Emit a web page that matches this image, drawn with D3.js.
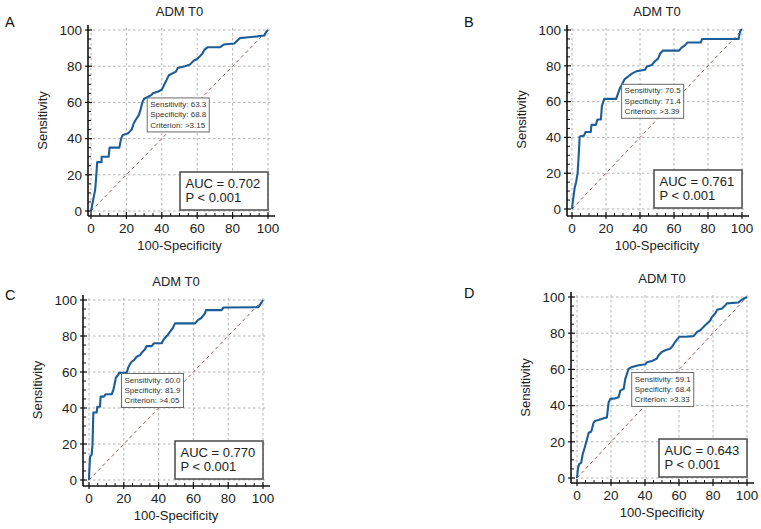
<!DOCTYPE html>
<html>
<head>
<meta charset="utf-8">
<script src="https://cdn.jsdelivr.net/npm/d3@7"></script>
<style>
  html, body { margin: 0; padding: 0; background: #ffffff; }
  svg { display: block; }
  text { font-family: "Liberation Sans", Arial, sans-serif; }
</style>
</head>
<body>
<svg id="chart" width="761" height="529"></svg>
<script>
// ---------------- DATA ----------------
const panelLabels = ["A", "B", "C", "D"];
const titles = ["ADM T0", "ADM T0", "ADM T0", "ADM T0"];
const xTicks = [0, 20, 40, 60, 80, 100];
const yTicks = [0, 20, 40, 60, 80, 100];
const minorTicks = [5, 10, 15, 25, 30, 35, 45, 50, 55, 65, 70, 75, 85, 90, 95];
const xAxisTitle = "100-Specificity";
const yAxisTitle = "Sensitivity";

const aucValues = ["0.702", "0.761", "0.770", "0.643"];
const pValues = ["< 0.001", "< 0.001", "< 0.001", "< 0.001"];
const sensValues = ["63.3", "70.5", "60.0", "59.1"];
const specValues = ["68.8", "71.4", "81.9", "68.4"];
const criterionValues = [">3.15", ">3.39", ">4.05", ">3.33"];

// ROC curves: [100-Specificity, Sensitivity]
const rocA = [[0,0],[1,5],[2,10],[2.4,12],[3,20],[3.5,27],[6,27],[6,30],[10,30],[10.5,35],[16,35],[17,40],[18,42],[21,43],[22,44],[23,45],[24,48],[25,50],[27,53],[28,56],[29,60],[30,62],[32,63],[34,64],[35,65],[38,66],[40,67],[41,69],[42,71],[43,73],[44,75],[46,76],[48,77],[49,79],[53,80],[56,81],[58,83],[60,84],[61,85],[63,87],[64,89],[66,90.5],[73,90.5],[75,92],[81,92.5],[83,94.5],[84,95.5],[89,96],[94,96.5],[98,97],[99,99],[100,100]];
const rocB = [[0,0],[0.6,5],[1.6,12],[2.4,15],[3.3,20],[4,31],[4.5,40.5],[7,41],[8,43],[11,43],[11.5,47],[14,47],[15,50],[17,50],[17.6,57.6],[19,61.5],[26,61.5],[26.5,63],[28,67],[29.6,70],[31,72.6],[33,74],[35,75.5],[38,77],[43,77.8],[44,79.6],[47,80.5],[48.6,82.4],[50.6,84],[52,87],[53.5,88.5],[63,88.5],[64.3,90],[66.7,91.7],[68,93],[75.7,93],[76.5,95],[98,95],[98.6,98],[99.2,100],[100,100]];
const rocC = [[0,0],[0.2,5.5],[0.6,13],[1.5,14],[2,19.5],[2.5,37.5],[4.4,37.5],[4.8,40.7],[6.3,40.7],[6.7,46.3],[8.6,46.3],[9.5,47.6],[13,47.6],[14,50],[15.5,57],[16.5,58],[17.4,59.5],[21.6,59.5],[22.6,62.6],[23.6,64.4],[24.5,65.7],[26,66.7],[27.4,68.5],[29.3,69.4],[30.3,70.7],[32.2,72.6],[33.1,74.4],[36,74.4],[37.4,76],[41.8,76],[42.7,77.8],[44.3,79.6],[45.6,81],[46.6,82.4],[48.1,84.3],[49.4,87],[61,87],[62.8,89],[64.5,90],[66.7,92.6],[67.2,94.4],[76.2,94.4],[77.2,95.8],[97.3,96],[98.7,98],[100,100]];
const rocD = [[0,0],[0.6,5.6],[1.4,7.8],[2.5,8.5],[3.3,13],[4.5,16.7],[5.3,19.5],[6.9,25],[8.4,25.7],[9.8,30.7],[10.8,31.6],[12.7,32],[15.7,33],[17.6,33.5],[18.6,41.8],[19.6,43.7],[22.5,44],[24.5,44.6],[25.5,48.3],[27.5,49.3],[28.4,54.8],[29.4,57.6],[30.4,60.4],[32.4,61.3],[36.3,62.3],[40.2,62.8],[41.2,64],[44,64.7],[45,65],[47,66],[48,67.8],[50,69.7],[52,70.6],[55,71.6],[55.9,72.5],[57.8,75.3],[60.2,78],[63.7,78],[68.6,78.4],[70.6,80.7],[72.5,81.6],[74.5,83.5],[76.5,85.3],[78.4,87],[79.4,89],[81.4,91],[82.4,92.9],[85.3,93.7],[87.3,95.5],[88.2,96.5],[95,97],[97,98.5],[100,100]];
const rocCurves = [rocA, rocB, rocC, rocD];

// cutoff points (100-specificity, sensitivity)
const cutX = specValues.map(s => 100 - (+s));
const cutY = sensValues.map(s => +s);

// ---------------- LAYOUT ----------------
const layout = [
  { x0: 91,  x1: 268, y0: 211, y1: 30,  axL: 88,  axB: 216, lx: 5,   ly: 27 },
  { x0: 572, x1: 742, y0: 209, y1: 30,  axL: 567, axB: 216, lx: 464, ly: 27 },
  { x0: 89,  x1: 263, y0: 480, y1: 300, axL: 83,  axB: 486, lx: 5,   ly: 300 },
  { x0: 577, x1: 747, y0: 478, y1: 297, axL: 571, axB: 483, lx: 464, ly: 298 }
];

const svg = d3.select("#chart");

layout.forEach((L, i) => {
  const g = svg.append("g");
  const x = d3.scaleLinear().domain([0, 100]).range([L.x0, L.x1]);
  const y = d3.scaleLinear().domain([0, 100]).range([L.y0, L.y1]);

  // grid
  g.append("g").selectAll("line").data(xTicks).join("line")
    .attr("x1", d => x(d)).attr("x2", d => x(d))
    .attr("y1", L.y1 - 2).attr("y2", L.axB)
    .attr("stroke", "#b4b4b4").attr("stroke-width", 1).attr("stroke-dasharray", "2.5,2.5");
  g.append("g").selectAll("line").data(yTicks).join("line")
    .attr("y1", d => y(d)).attr("y2", d => y(d))
    .attr("x1", L.axL).attr("x2", L.x1 + 2)
    .attr("stroke", "#b4b4b4").attr("stroke-width", 1).attr("stroke-dasharray", "2.5,2.5");

  // diagonal
  g.append("line")
    .attr("x1", x(0)).attr("y1", y(0)).attr("x2", x(100)).attr("y2", y(100))
    .attr("stroke", "#a45a5a").attr("stroke-width", 1).attr("stroke-dasharray", "3.5,3");

  // ROC curve
  const line = d3.line().x(d => x(d[0])).y(d => y(d[1]));
  g.append("path").datum(rocCurves[i])
    .attr("d", line)
    .attr("fill", "none").attr("stroke", "#1c5d98").attr("stroke-width", 2.1)
    .attr("stroke-linejoin", "round");

  // axes lines
  g.append("line").attr("x1", L.axL).attr("x2", L.axL).attr("y1", L.y1 - 5).attr("y2", L.axB)
    .attr("stroke", "#111").attr("stroke-width", 1.6);
  g.append("line").attr("x1", L.axL).attr("x2", L.x1 + 7).attr("y1", L.axB).attr("y2", L.axB)
    .attr("stroke", "#111").attr("stroke-width", 1.6);

  // ticks
  g.append("g").selectAll("line").data(yTicks).join("line")
    .attr("x1", L.axL - 3).attr("x2", L.axL + 4).attr("y1", d => y(d)).attr("y2", d => y(d))
    .attr("stroke", "#111").attr("stroke-width", 1.2);
  g.append("g").selectAll("line").data(minorTicks).join("line")
    .attr("x1", L.axL).attr("x2", L.axL + 3).attr("y1", d => y(d)).attr("y2", d => y(d))
    .attr("stroke", "#111").attr("stroke-width", 1);
  g.append("g").selectAll("line").data(xTicks).join("line")
    .attr("y1", L.axB + 3).attr("y2", L.axB - 4).attr("x1", d => x(d)).attr("x2", d => x(d))
    .attr("stroke", "#111").attr("stroke-width", 1.2);
  g.append("g").selectAll("line").data(minorTicks).join("line")
    .attr("y1", L.axB).attr("y2", L.axB - 3).attr("x1", d => x(d)).attr("x2", d => x(d))
    .attr("stroke", "#111").attr("stroke-width", 1);

  // tick labels
  g.append("g").selectAll("text").data(yTicks).join("text")
    .attr("x", L.axL - 6).attr("y", d => y(d)).attr("dy", "0.36em")
    .attr("text-anchor", "end").attr("font-size", 13.5).attr("fill", "#222")
    .text(d => d);
  g.append("g").selectAll("text").data(xTicks).join("text")
    .attr("x", d => x(d)).attr("y", L.axB + 16.5)
    .attr("text-anchor", "middle").attr("font-size", 13.5).attr("fill", "#222")
    .text(d => d);

  // titles
  g.append("text").attr("x", (L.x0 + L.x1) / 2).attr("y", L.y1 - 13.7)
    .attr("text-anchor", "middle").attr("font-size", 13).attr("fill", "#222").text(titles[i]);
  g.append("text").attr("x", (L.x0 + L.x1) / 2).attr("y", L.axB + 33.5)
    .attr("text-anchor", "middle").attr("font-size", 13).attr("fill", "#222").text(xAxisTitle);
  g.append("text")
    .attr("transform", `translate(${L.axL - 41},${(L.y0 + L.y1) / 2}) rotate(-90)`)
    .attr("text-anchor", "middle").attr("font-size", 13).attr("fill", "#222").text(yAxisTitle);

  // panel letter
  g.append("text").attr("x", L.lx).attr("y", L.ly)
    .attr("font-size", 14.5).attr("fill", "#111").text(panelLabels[i]);

  // cutoff info box
  const bx = x(cutX[i]) + 1, by = y(cutY[i]) + 1.5;
  const infoLines = [
    "Sensitivity: " + sensValues[i],
    "Specificity: " + specValues[i],
    "Criterion: " + criterionValues[i]
  ];
  const ib = g.append("g");
  const rect = ib.append("rect").attr("x", bx).attr("y", by)
    .attr("fill", "#fff").attr("stroke", "#6a6a6a").attr("stroke-width", 1);
  const tx = ib.selectAll("text").data(infoLines).join("text")
    .attr("x", bx + 3).attr("y", (d, k) => by + 9 + k * 10.3)
    .attr("font-size", 8).attr("fill", "#333").text(d => d);
  let maxW = 0;
  tx.each(function () { maxW = Math.max(maxW, this.getComputedTextLength()); });
  rect.attr("width", maxW + 6).attr("height", 34);

  // AUC box
  const aw = 88, ah = 38;
  const ax = L.x1 - aw, ay = L.y0 - 1 - ah;
  g.append("rect").attr("x", ax).attr("y", ay).attr("width", aw).attr("height", ah)
    .attr("fill", "#fff").attr("stroke", "#4a4a4a").attr("stroke-width", 1.5);
  g.append("text").attr("x", ax + 5.5).attr("y", ay + 15.5)
    .attr("font-size", 13).attr("fill", "#222").text("AUC = " + aucValues[i]);
  g.append("text").attr("x", ax + 5.5).attr("y", ay + 29.5)
    .attr("font-size", 13).attr("fill", "#222").text("P " + pValues[i]);
});
</script>
</body>
</html>
